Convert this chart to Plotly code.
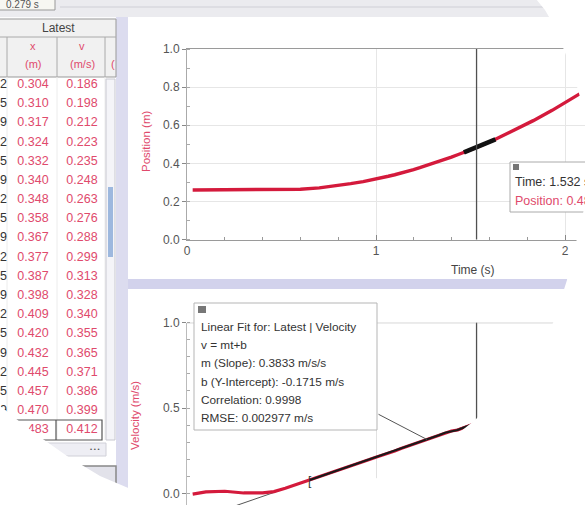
import plotly.graph_objects as go
import numpy as np

W, H = 585, 505

# ---------------- data ----------------
table_time = [0.932, 0.965, 0.999, 1.032, 1.065, 1.099, 1.132, 1.165, 1.199, 1.232,
              1.265, 1.299, 1.332, 1.365, 1.399, 1.432, 1.465, 1.499, 1.532]
table_x = [0.304, 0.310, 0.317, 0.324, 0.332, 0.340, 0.348, 0.358, 0.367, 0.377,
           0.387, 0.398, 0.409, 0.420, 0.432, 0.445, 0.457, 0.470, 0.483]
table_v = [0.186, 0.198, 0.212, 0.223, 0.235, 0.248, 0.263, 0.276, 0.288, 0.299,
           0.313, 0.328, 0.340, 0.355, 0.365, 0.371, 0.386, 0.399, 0.412]

pos_pre_t = [0.03, 0.10, 0.20, 0.30, 0.40, 0.50, 0.60, 0.70, 0.80, 0.866]
pos_pre_x = [0.260, 0.260, 0.260, 0.260, 0.260, 0.261, 0.264, 0.271, 0.283, 0.293]
pos_post_t = [1.632, 1.732, 1.832, 1.932, 2.032, 2.132]
pos_post_x = [0.526, 0.573, 0.624, 0.678, 0.736, 0.797]

vel_pre_t = [0.03, 0.10, 0.20, 0.30, 0.40, 0.46, 0.52, 0.58, 0.65, 0.72, 0.80, 0.866]
vel_pre_v = [-0.005, 0.008, 0.012, 0.002, 0.003, 0.010, 0.030, 0.052, 0.078, 0.105, 0.135, 0.160]
vel_post_t = [1.632, 1.732, 1.832]
vel_post_v = [0.454, 0.492, 0.531]

fit_t = [0.0, 2.11]
fit_v = [-0.1715, 0.6373]
fit_slope = 0.3833
fit_intercept = -0.1715
fit_corr = 0.9998
fit_rmse = 0.002977

cursor_t = 1.532
pos_sel = (1.44, 1.65)      # selected (black) span on the position graph
vel_sel = (0.65, 2.2)       # fitted span on the velocity graph

# ---------------- helpers ----------------
def px(x):
    return x / W

def py(y):
    return 1 - y / H

def poly(points):
    return "M " + " L ".join(f"{px(x):.5f},{py(y):.5f}" for x, y in points) + " Z"

RED = "#d41a3c"
TRED = "#e04a6c"
FONT = "Liberation Sans"

pos_t = np.array(pos_pre_t + table_time + pos_post_t)
pos_x = np.array(pos_pre_x + table_x + pos_post_x)
vel_t = np.array(vel_pre_t + table_time + vel_post_t)
vel_v = np.array(vel_pre_v + table_v + vel_post_v)

fig = go.Figure()

# position graph
fig.add_trace(go.Scatter(x=pos_t, y=pos_x, mode="lines", line=dict(color=RED, width=3.4),
                         xaxis="x", yaxis="y", hoverinfo="skip"))
m = (pos_t >= pos_sel[0]) & (pos_t <= pos_sel[1])
fig.add_trace(go.Scatter(x=pos_t[m], y=pos_x[m], mode="lines", line=dict(color="#111", width=4.6),
                         xaxis="x", yaxis="y", hoverinfo="skip"))

# velocity graph
fig.add_trace(go.Scatter(x=fit_t, y=fit_v, mode="lines", line=dict(color="#555", width=1),
                         xaxis="x2", yaxis="y2", hoverinfo="skip"))
fig.add_trace(go.Scatter(x=vel_t, y=vel_v, mode="lines", line=dict(color=RED, width=3.2),
                         xaxis="x2", yaxis="y2", hoverinfo="skip"))
m2 = (vel_t >= vel_sel[0]) & (vel_t <= vel_sel[1])
fig.add_trace(go.Scatter(x=vel_t[m2], y=vel_v[m2], mode="lines", line=dict(color="#1a1a1a", width=2.2),
                         xaxis="x2", yaxis="y2", hoverinfo="skip"))

# data table as text traces on a full-page pixel axis (so the photo vignette can cover them)
row_y = [85 + 19.17 * i for i in range(len(table_time))]
def table_col(xpos, vals, color, pos):
    fig.add_trace(go.Scatter(x=[xpos] * len(vals), y=row_y, mode="text", text=[f"{v:.3f}" for v in vals],
                             textposition=pos, textfont=dict(family=FONT, size=12.5, color=color),
                             xaxis="x3", yaxis="y3", hoverinfo="skip", cliponaxis=False))
table_col(7, table_time, "#333", "middle left")
table_col(33, table_x, TRED, "middle center")
table_col(82, table_v, TRED, "middle center")

xdom = [187 / W, 1]
xr = [0, (W - 187) / 189.0]
ax_common = dict(tickfont=dict(family=FONT, size=12, color="#555"), zeroline=False)

fig.update_layout(
    width=W, height=H, margin=dict(l=0, r=0, t=0, b=0, autoexpand=False),
    paper_bgcolor="#fcfcfd", plot_bgcolor="rgba(0,0,0,0)", showlegend=False,
    font=dict(family=FONT, size=12, color="#444"),
    xaxis=dict(domain=xdom, range=xr, anchor="y", tickvals=[0, 1, 2], ticks="inside", ticklen=5,
               tickcolor="#888", showgrid=True, gridcolor="#e6e6e6", showline=True, linecolor="#9a9a9a",
               mirror=True, minor=dict(dtick=0.2, ticks="inside", ticklen=3, tickcolor="#999", showgrid=False),
               **ax_common),
    yaxis=dict(domain=[py(239.5), py(49)], range=[0, 1], anchor="x", dtick=0.2, tickformat=".1f",
               ticks="outside", ticklen=4, tickcolor="#888", showgrid=True, gridcolor="#e6e6e6",
               showline=True, linecolor="#aaa",
               minor=dict(dtick=0.1, ticks="inside", ticklen=3, tickcolor="#aaa", showgrid=False),
               **ax_common),
    xaxis2=dict(domain=xdom, range=xr, anchor="y2", tickvals=[1, 2], showticklabels=False, ticks="",
                showgrid=True, gridcolor="#e2e2e2", showline=False, **ax_common),
    yaxis2=dict(domain=[0, py(322.7)], range=[-(505 - 493.3) / 170.7, 1.0], anchor="x2",
                tickvals=[0, 0.5, 1.0], tickformat=".1f", ticks="outside", ticklen=4, tickcolor="#888",
                showgrid=False, showline=True, linecolor="#bbb",
                minor=dict(dtick=0.1, ticks="inside", ticklen=3, tickcolor="#aaa", showgrid=False),
                **ax_common),
    xaxis3=dict(domain=[0, 1], range=[0, W], anchor="y3", visible=False, fixedrange=True),
    yaxis3=dict(domain=[0, 1], range=[H, 0], anchor="x3", visible=False, fixedrange=True),
)

shapes = []
annos = []

def txt(x, y, s, size=12, color="#444", xa="center", ya="middle", **kw):
    annos.append(dict(x=px(x), y=py(y), xref="paper", yref="paper", text=s, showarrow=False,
                      xanchor=xa, yanchor=ya, font=dict(family=FONT, size=size, color=color), **kw))

def rect(x0, y0, x1, y1, fill, line_color=None, lw=1, layer="below"):
    shapes.append(dict(type="rect", xref="paper", yref="paper", x0=px(x0), x1=px(x1), y0=py(y1), y1=py(y0),
                       fillcolor=fill, line=dict(color=line_color or "rgba(0,0,0,0)", width=lw if line_color else 0),
                       layer=layer))

def hline(x0, x1, y, color, lw=1, layer="below"):
    shapes.append(dict(type="line", xref="paper", yref="paper", x0=px(x0), x1=px(x1), y0=py(y), y1=py(y),
                       line=dict(color=color, width=lw), layer=layer))

def vline(x, y0, y1, color, lw=1, layer="below"):
    shapes.append(dict(type="line", xref="paper", yref="paper", x0=px(x), x1=px(x), y0=py(y0), y1=py(y1),
                       line=dict(color=color, width=lw), layer=layer))

# panel backgrounds
rect(128, 17, 586, 279, "white")
rect(128, 289, 586, 506, "white")
rect(-1, 77, 116, 466, "white")

# window chrome: top band, lavender strips
rect(-1, -1, 586, 17, "#ebebef")
hline(60, 586, 7, "#cfcfd6")
rect(-1, -1, 55, 10, "#f7f7f2", "#999")
txt(4, 4, "0.279 s", size=10, color="#555", xa="left")
rect(116, 17, 128, 506, "#dcdcef")
rect(128, 279, 586, 289, "#d2d2ec")

# table header
rect(-1, 19, 116, 77, "#f1f1f1", "#999")
hline(-1, 116, 37, "#aaa")
for cx in [7, 57, 105]:
    vline(cx, 37, 77, "#aaa")
    vline(cx, 77, 440, "#ececec")
txt(58, 28, "Latest", size=12, color="#444")
for cx, nm, un in [(33, "x", "(m)"), (82, "v", "(m/s)")]:
    txt(cx, 46, nm, size=11, color=TRED)
    txt(cx, 64, un, size=11, color=TRED)
txt(109, 64, "(", size=11, color=TRED, xa="left")
# vertical scrollbar
rect(106, 79, 115, 440, "#f4f4f8", "#c8c8d0")
rect(108, 187, 113, 257, "#9db8de")
# selected last row, horizontal scrollbar, window frame
rect(-2, 420, 102, 440, "rgba(0,0,0,0)", "#555", 1.2, layer="above")
vline(56, 420, 440, "#555", 1.2, layer="above")
rect(-1, 443, 106, 456, "#eeeef4", "#d0d0d8")
txt(95, 449, "• • •", size=6, color="#555")
rect(-1, 466, 116, 506, "#e2e2ea", "#888", 1.5)

# axis titles
txt(146, 141, "Position (m)", size=11.5, color=TRED, textangle=-90)
txt(135, 416, "Velocity (m/s)", size=11.5, color=TRED, textangle=-90)
txt(473, 270, "Time (s)", size=12, color="#444")

# cursor lines
shapes.append(dict(type="line", xref="x", yref="y domain", x0=cursor_t, x1=cursor_t, y0=0, y1=1,
                   line=dict(color="#505050", width=1.3)))
shapes.append(dict(type="line", xref="x2", yref="y2 domain", x0=cursor_t, x1=cursor_t, y0=0, y1=1,
                   line=dict(color="#505050", width=1.3)))
# top frame of velocity graph
shapes.append(dict(type="line", xref="x2 domain", yref="y2", x0=0, x1=1, y0=1.0, y1=1.0,
                   line=dict(color="#9a9a9a", width=1)))

# cursor readout box (position graph)
rect(510, 162, 620, 212, "white", "#aaa", layer="above")
rect(513, 164, 519, 170, "#777", layer="above")
txt(513, 182, f"Time: {cursor_t:.3f} s", size=12.5, color="#333", xa="left")
txt(513, 201, f"Position: {table_x[-1]:.3f} m", size=12.5, color=TRED, xa="left")

# linear fit box (velocity graph)
rect(194, 303, 377, 430, "white", "#b5b5b5", layer="above")
rect(198, 306, 206, 313, "#777", layer="above")
fit_lines = [
    "Linear Fit for: Latest | Velocity",
    "v = mt+b",
    f"m (Slope): {fit_slope:.4f} m/s/s",
    f"b (Y-Intercept): {fit_intercept:.4f} m/s",
    f"Correlation: {fit_corr:.4f}",
    f"RMSE: {fit_rmse:.6f} m/s",
]
for i, s in enumerate(fit_lines):
    txt(199, 327 + 18.2 * i, s, size=11.8, color="#333", xa="left")
# leader from box to fit line
lead_t = 1.27
annos.append(dict(x=lead_t, y=fit_slope * lead_t + fit_intercept, xref="x2", yref="y2", text="",
                  showarrow=True, arrowhead=0, arrowwidth=1, arrowcolor="#555", ax=-50, ay=-26,
                  axref="pixel", ayref="pixel"))
annos.append(dict(x=vel_sel[0], y=0.075, xref="x2", yref="y2", text="[", showarrow=False,
                  xanchor="center", yanchor="middle", font=dict(size=12, color="#333")))

# white photo vignette
white = dict(type="path", xref="paper", yref="paper", fillcolor="white", line=dict(width=0), layer="above")
shapes.append(dict(white, path=poly([(536, -1), (545, 10), (552, 22), (560, 40), (568, 60), (575, 80),
                                      (581, 100), (586, 115), (586, -1)])))
shapes.append(dict(white, path=poly([(586, 200), (578, 235), (570, 265), (567, 280), (560, 302), (553, 323),
                                      (540, 345), (525, 367), (508, 388), (490, 405), (475, 420), (455, 436),
                                      (430, 452), (400, 468), (370, 481), (343, 491), (320, 499), (300, 506),
                                      (586, 506)])))
shapes.append(dict(white, path=poly([(-1, 405), (20, 422), (40, 437), (67, 456), (100, 476), (133, 490),
                                      (160, 501), (172, 506), (-1, 506)])))

fig.update_layout(shapes=shapes, annotations=annos)
fig.write_html("out.html", config={"displayModeBar": False},
               post_script="document.body.style.margin='0px';document.body.style.overflow='hidden';")
